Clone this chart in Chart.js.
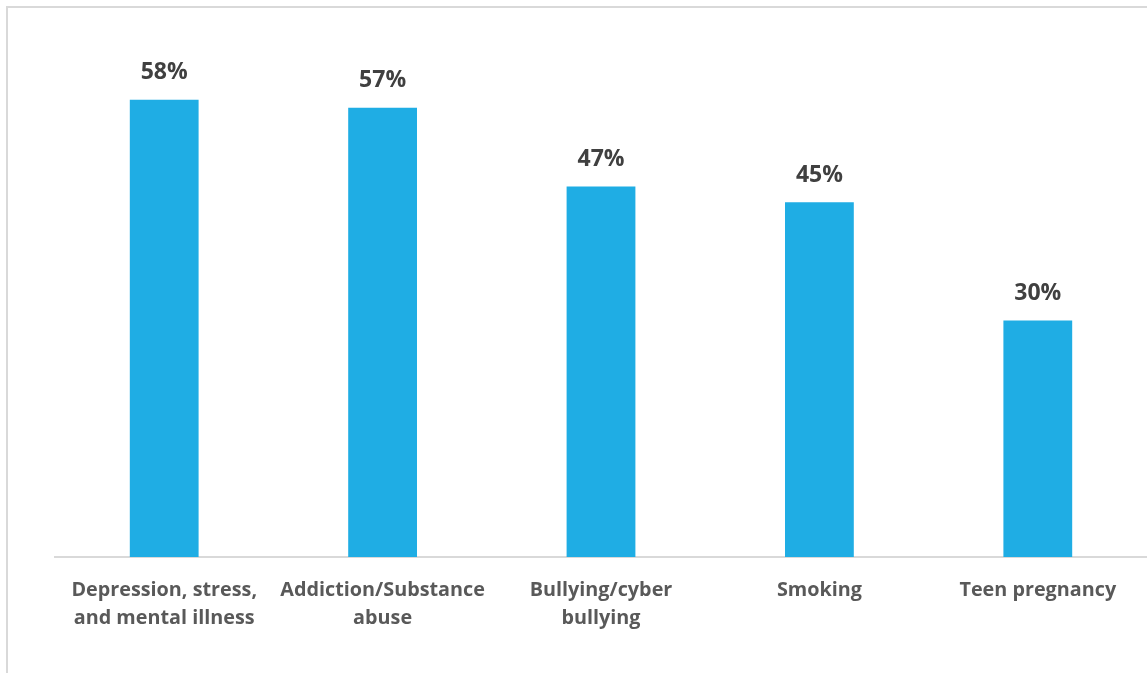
<!DOCTYPE html>
<html>
<head>
<meta charset="utf-8">
<script src="https://cdn.jsdelivr.net/npm/chart.js@4.4.1/dist/chart.umd.min.js"></script>
<style>
  html, body { margin: 0; padding: 0; background: #fff; overflow: hidden; }
  #frame { position: absolute; left: 6px; top: 6px; width: 1300px; height: 800px; border: 2px solid #d9d9d9; box-sizing: border-box; }
  #c { position: absolute; left: 0; top: 0; }
</style>
</head>
<body>
<div id="frame"></div>
<canvas id="c" width="1147" height="673"></canvas>
<script>
// Share of respondents naming each issue
const categories = [
  ["Depression, stress,", "and mental illness"],
  ["Addiction/Substance", "abuse"],
  ["Bullying/cyber", "bullying"],
  ["Smoking"],
  ["Teen pregnancy"]
];
const values = [58, 57, 47, 45, 30];

// Writes "NN%" above each bar, positioned from the bar element itself
const valueLabels = {
  id: 'valueLabels',
  afterDatasetsDraw(chart) {
    const ctx = chart.ctx;
    const meta = chart.getDatasetMeta(0);
    ctx.save();
    ctx.font = 'bold 23px "Open Sans"';
    ctx.fillStyle = '#404040';
    ctx.textAlign = 'center';
    ctx.textBaseline = 'middle';
    meta.data.forEach((bar, i) => {
      ctx.fillText(values[i] + '%', bar.x, bar.y - 27);
    });
    ctx.restore();
  }
};

new Chart(document.getElementById('c'), {
  type: 'bar',
  data: {
    labels: categories,
    datasets: [{
      data: values,
      backgroundColor: '#1FADE4',
      borderWidth: 0,
      barPercentage: 0.63,
      categoryPercentage: 0.5
    }]
  },
  options: {
    responsive: false,
    animation: false,
    layout: { padding: { left: 55, right: 0, top: 84, bottom: 0 } },
    plugins: { legend: { display: false }, tooltip: { enabled: false } },
    scales: {
      x: {
        grid: { display: false, drawTicks: false },
        border: { display: true, color: '#d9d9d9', width: 2 },
        ticks: {
          autoSkip: false,
          maxRotation: 0,
          padding: 19,
          color: '#595959',
          font: { family: '"Open Sans"', weight: 'bold', size: 19.8, lineHeight: 1.414 }
        },
        afterFit(scale) { scale.height = 116; }
      },
      y: {
        display: false,
        min: 0,
        max: 60
      }
    }
  },
  plugins: [valueLabels]
});
</script>
</body>
</html>
